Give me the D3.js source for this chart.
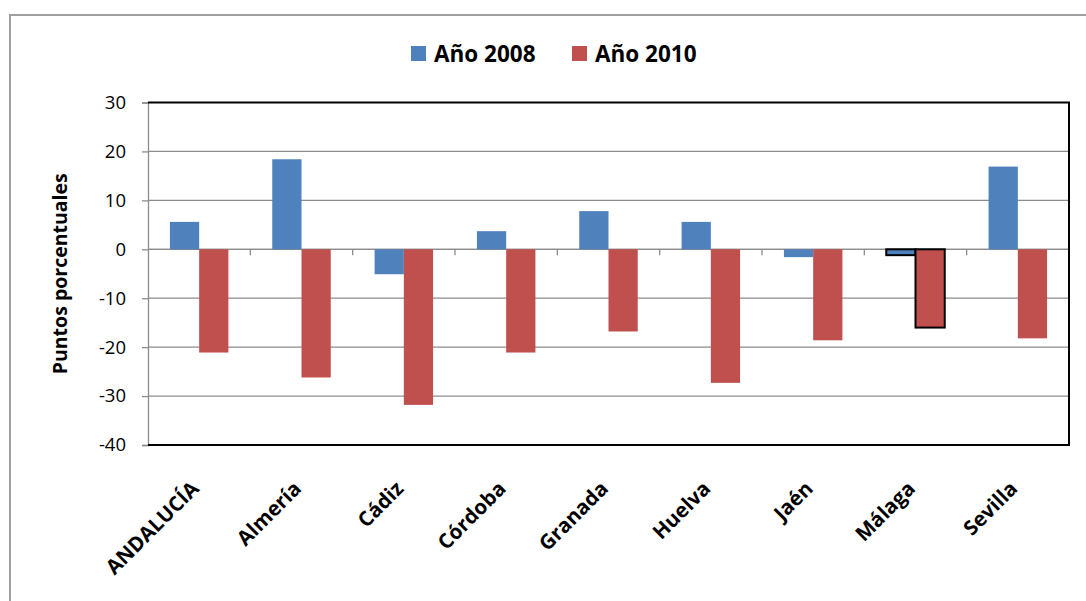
<!DOCTYPE html>
<html>
<head>
<meta charset="utf-8">
<script src="https://cdn.jsdelivr.net/npm/d3@7"></script>
<style>
    body { margin: 0; background: #fff; }
    svg { display: block; font-family: "Open Sans", "DejaVu Sans", sans-serif; }
</style>
</head>
<body>
<svg id="chart"></svg>
<script>
// Data
let provincias = ['ANDALUCÍA', 'Almería', 'Cádiz', 'Córdoba', 'Granada', 'Huelva', 'Jaén', 'Málaga', 'Sevilla'];
let anio2008 = [5.6, 18.4, -5.1, 3.7, 7.8, 5.6, -1.6, -1.2, 16.9];
let anio2010 = [-21.1, -26.2, -31.8, -21.1, -16.8, -27.3, -18.6, -16.0, -18.2];
let series = ['Año 2008', 'Año 2010'];
let yTicks = [30, 20, 10, 0, -10, -20, -30, -40];
let destacada = 'Málaga';

// Global Variables
let c = {
    svg: { width: 1086, height: 601 },
    plot: { left: 148, right: 1069, top: 102.5, bottom: 445 },
    colors: ['#4f81bd', '#c0504d'],
    grid: '#8c8c8c'
};

function drawChart() {
    let svg = d3.select('#chart')
        .attr('width', c.svg.width)
        .attr('height', c.svg.height);

    // Outer frame (only top and left edges visible)
    svg.append('path')
        .attr('d', 'M10,' + c.svg.height + ' V15 H' + c.svg.width)
        .attr('fill', 'none')
        .attr('stroke', '#a0a0a0')
        .attr('stroke-width', 2);

    let x = d3.scaleBand()
        .domain(provincias)
        .range([c.plot.left, c.plot.right]);
    let inner = d3.scaleBand()
        .domain(series)
        .range([0, x.bandwidth()])
        .paddingInner(0)
        .paddingOuter(0.75);
    let y = d3.scaleLinear()
        .domain([-40, 30])
        .range([c.plot.bottom, c.plot.top]);

    // Gridlines
    svg.append('g')
        .selectAll('line')
        .data(yTicks.filter(d => d !== 30 && d !== -40))
        .join('line')
        .attr('x1', c.plot.left)
        .attr('x2', c.plot.right)
        .attr('y1', d => y(d))
        .attr('y2', d => y(d))
        .attr('stroke', c.grid)
        .attr('stroke-width', 1.3);

    // Y axis (plain hyphen for negatives, as in the original)
    let yAxis = svg.append('g')
        .attr('transform', translate(c.plot.left, 0))
        .call(d3.axisLeft(y).tickValues(yTicks).tickSize(6).tickPadding(16).tickFormat(d => String(d)));
    yAxis.select('.domain').attr('stroke', c.grid).attr('stroke-width', 1.3);
    yAxis.selectAll('.tick line').attr('stroke', c.grid).attr('stroke-width', 1.3);
    yAxis.selectAll('.tick text')
        .attr('fill', '#000')
        .style('font-size', '18.5px')
        .style('font-family', '"Open Sans", sans-serif');

    // Zero axis with ticks between categories
    let zero = svg.append('g')
        .attr('transform', translate(0, y(0)));
    zero.append('line')
        .attr('x1', c.plot.left)
        .attr('x2', c.plot.right)
        .attr('stroke', c.grid)
        .attr('stroke-width', 1.3);
    zero.selectAll('line.tick')
        .data(provincias.slice(1))
        .join('line')
        .attr('class', 'tick')
        .attr('x1', d => x(d))
        .attr('x2', d => x(d))
        .attr('y1', 0)
        .attr('y2', 6)
        .attr('stroke', c.grid)
        .attr('stroke-width', 1.3);

    // Bars
    let rows = provincias.map((p, i) => ({ p: p, v: [anio2008[i], anio2010[i]] }));
    let groups = svg.append('g')
        .selectAll('g')
        .data(rows)
        .join('g')
        .attr('transform', d => translate(x(d.p), 0));
    groups.selectAll('rect')
        .data(d => d.v.map((v, j) => ({ p: d.p, s: series[j], v: v, j: j })))
        .join('rect')
        .attr('x', d => inner(d.s))
        .attr('width', inner.bandwidth())
        .attr('y', d => y(Math.max(0, d.v)))
        .attr('height', d => Math.abs(y(d.v) - y(0)))
        .attr('fill', d => c.colors[d.j])
        .attr('stroke', d => d.p === destacada ? '#000' : 'none')
        .attr('stroke-width', 2);

    // Plot area border (top, right, bottom)
    svg.append('path')
        .attr('d', 'M' + c.plot.left + ',' + c.plot.top + ' H' + c.plot.right +
            ' V' + c.plot.bottom + ' H' + c.plot.left)
        .attr('fill', 'none')
        .attr('stroke', '#000')
        .attr('stroke-width', 2);

    // Category labels, rotated
    svg.append('g')
        .selectAll('text')
        .data(provincias)
        .join('text')
        .attr('transform', d => translate(x(d) + x.bandwidth() / 2 + 1, 490) + ' rotate(-45)')
        .attr('text-anchor', 'end')
        .style('font-size', '20.5px')
        .style('font-weight', 'bold')
        .text(d => d);

    // Y axis title
    svg.append('text')
        .attr('transform', translate(67, midpoint([c.plot.top, c.plot.bottom])) + ' rotate(-90)')
        .attr('text-anchor', 'middle')
        .style('font-size', '19.5px')
        .style('font-weight', 'bold')
        .text('Puntos porcentuales');

    // Legend
    let legendX = [411, 572];
    let legend = svg.append('g')
        .selectAll('g')
        .data(series)
        .join('g')
        .attr('transform', (d, i) => translate(legendX[i], 46));
    legend.append('rect')
        .attr('width', 15)
        .attr('height', 15)
        .attr('fill', (d, i) => c.colors[i]);
    legend.append('text')
        .attr('x', 23)
        .attr('y', 15.5)
        .style('font-size', '22.5px')
        .style('font-weight', 'bold')
        .text(d => d);
}

drawChart();

function translate(x, y) {
    return 'translate(' + x + ',' + y + ')';
}

function midpoint(range) {
    return range[0] + (range[1] - range[0]) / 2.0;
}
</script>
</body>
</html>
